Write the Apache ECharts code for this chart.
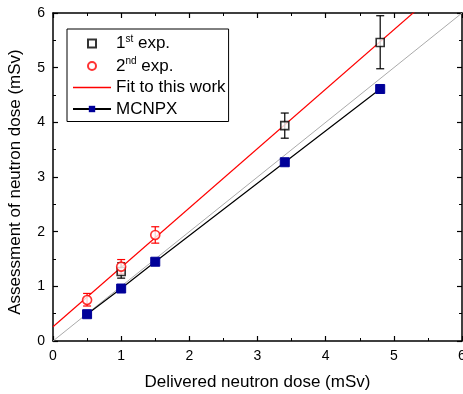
<!DOCTYPE html>
<html>
<head>
<meta charset="utf-8">
<script src="https://cdn.jsdelivr.net/npm/echarts@6/dist/echarts.min.js"></script>
<style>
  html, body { margin: 0; padding: 0; background: #fff; }
  #chart { width: 463px; height: 394px; }
</style>
</head>
<body>
<div id="chart"></div>
<script>
// 1st experiment (open black squares)
const exp1X = [1, 3.4, 4.8];
const exp1Y = [1.27, 3.94, 5.46];
const exp1Lo = [1.15, 3.71, 4.98];
const exp1Hi = [1.43, 4.17, 5.95];

// 2nd experiment (open red circles)
const exp2X = [0.5, 1, 1.5];
const exp2Y = [0.75, 1.36, 1.94];
const exp2Lo = [0.64, 1.23, 1.79];
const exp2Hi = [0.87, 1.49, 2.09];

// MCNPX simulation
const mcnpX = [0.5, 1, 1.5, 3.4, 4.8];
const mcnpY = [0.49, 0.96, 1.45, 3.27, 4.61];

// linear fit end points and y = x reference
const fitX = [0, 6];
const fitY = [0.26, 6.78];
const refX = [0, 6];
const refY = [0, 6];

const zip = (xs, ys) => xs.map((x, i) => [x, ys[i]]);
const zip3 = (xs, lo, hi) => xs.map((x, i) => [x, lo[i], hi[i]]);

const font = 'Liberation Sans, Arial, sans-serif';

function errorBars(color) {
  return function (params, api) {
    const x = api.value(0);
    const lo = api.coord([x, api.value(1)]);
    const hi = api.coord([x, api.value(2)]);
    const w = 4;
    const style = { stroke: color, lineWidth: 1.2 };
    return {
      type: 'group',
      children: [
        { type: 'line', shape: { x1: lo[0], y1: lo[1], x2: hi[0], y2: hi[1] }, style },
        { type: 'line', shape: { x1: lo[0] - w, y1: lo[1], x2: lo[0] + w, y2: lo[1] }, style },
        { type: 'line', shape: { x1: hi[0] - w, y1: hi[1], x2: hi[0] + w, y2: hi[1] }, style },
      ],
    };
  };
}

const axisCommon = {
  type: 'value',
  min: 0,
  max: 6,
  interval: 1,
  axisLine: { onZero: false, lineStyle: { color: '#000', width: 1.5 } },
  axisTick: { inside: true, length: 5, lineStyle: { color: '#000', width: 1.2 } },
  minorTick: { show: true, splitNumber: 2, length: 3, lineStyle: { color: '#000', width: 1 } },
  splitLine: { show: false },
};

const chart = echarts.init(document.getElementById('chart'));

const names = {
  '1st exp.': '{t|1}{s|st}{t| exp.}',
  '2nd exp.': '{t|2}{s|nd}{t| exp.}',
};

chart.setOption({
  animation: false,
  backgroundColor: '#fff',
  grid: { left: 53, right: 1, top: 13, bottom: 53, containLabel: false, outerBoundsMode: 'none' },
  legend: {
    left: 67,
    top: 29,
    orient: 'vertical',
    backgroundColor: '#fff',
    borderColor: '#000',
    borderWidth: 1,
    borderRadius: 0,
    padding: [5, 3, 4, 5],
    itemWidth: 38,
    itemHeight: 8,
    itemGap: 4.5,
    data: [
      { name: '1st exp.', icon: 'path://M0,0h8v8h-8z' },
      { name: '2nd exp.', icon: 'circle' },
      { name: 'Fit to this work', icon: 'path://M0,0h38v1.4h-38z', itemStyle: { color: '#ff0000' } },
      { name: 'MCNPX' },
    ],
    formatter: (n) => names[n] || '{t|' + n + '}',
    textStyle: {
      fontFamily: font,
      color: '#000',
      rich: {
        t: { fontSize: 17, fontFamily: font, color: '#000', lineHeight: 19 },
        s: { fontSize: 10, fontFamily: font, color: '#000', verticalAlign: 'top', padding: [0, 0, 8, 0] },
      },
    },
  },
  xAxis: [
    Object.assign({}, axisCommon, {
      position: 'bottom',
      name: 'Delivered neutron dose (mSv)',
      nameLocation: 'middle',
      nameGap: 33,
      nameTextStyle: { fontFamily: font, fontSize: 17, color: '#000' },
      axisLabel: { fontFamily: font, fontSize: 14, color: '#000', margin: 8 },
    }),
    Object.assign({}, axisCommon, {
      position: 'top',
      axisLabel: { show: false },
    }),
  ],
  yAxis: [
    Object.assign({}, axisCommon, {
      position: 'left',
      name: 'Assessment of neutron dose (mSv)',
      nameLocation: 'middle',
      nameGap: 29,
      nameTextStyle: { fontFamily: font, fontSize: 17, color: '#000', padding: [0, 10, 0, 0] },
      axisLabel: { fontFamily: font, fontSize: 14, color: '#000', margin: 8 },
    }),
    Object.assign({}, axisCommon, {
      position: 'right',
      axisLabel: { show: false },
    }),
  ],
  series: [
    {
      name: 'y = x',
      type: 'line',
      data: zip(refX, refY),
      symbol: 'none',
      lineStyle: { color: '#aaaaaa', width: 1 },
      z: 1,
      silent: true,
    },
    {
      name: 'Fit to this work',
      type: 'line',
      data: zip(fitX, fitY),
      symbol: 'none',
      clip: true,
      lineStyle: { color: '#ff0000', width: 1.2 },
      itemStyle: { color: '#ff0000' },
      z: 2,
    },
    {
      name: 'MCNPX',
      type: 'line',
      data: zip(mcnpX, mcnpY),
      symbol: 'rect',
      symbolSize: 9,
      lineStyle: { color: '#000', width: 1.2 },
      itemStyle: { color: '#000099', borderColor: '#000099' },
      z: 3,
    },
    {
      name: 'err1',
      type: 'custom',
      data: zip3(exp1X, exp1Lo, exp1Hi),
      renderItem: errorBars('#000'),
      z: 4,
    },
    {
      name: 'err2',
      type: 'custom',
      data: zip3(exp2X, exp2Lo, exp2Hi),
      renderItem: errorBars('#ff0000'),
      z: 4,
    },
    {
      name: '1st exp.',
      type: 'scatter',
      data: zip(exp1X, exp1Y),
      symbol: 'rect',
      symbolSize: 8,
      itemStyle: { color: '#fff', borderColor: '#000', borderWidth: 1.6 },
      z: 5,
    },
    {
      name: '2nd exp.',
      type: 'scatter',
      data: zip(exp2X, exp2Y),
      symbol: 'circle',
      symbolSize: 9,
      itemStyle: { color: '#fff', borderColor: '#ff0000', borderWidth: 1.6 },
      z: 6,
    },
  ],
});
</script>
</body>
</html>
